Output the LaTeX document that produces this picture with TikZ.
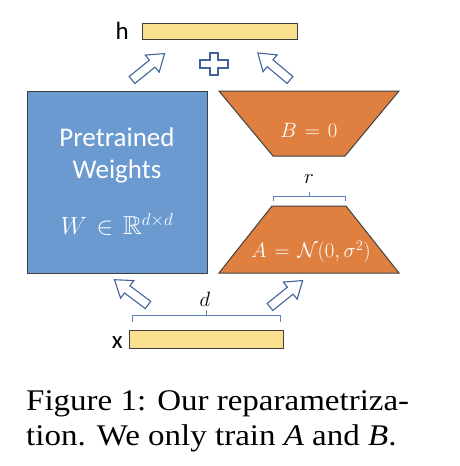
\documentclass[tikz,border=0pt]{standalone}
\usepackage{fontspec}
\usepackage{amssymb}
\newfontfamily\calfont{Carlito}
\newfontfamily\capfont[FakeStretch=1.1]{Liberation Serif}
\definecolor{boxblue}{HTML}{6A9AD0}
\definecolor{boxorange}{HTML}{E08040}
\definecolor{baryellow}{HTML}{FAE08E}
\definecolor{arrblue}{HTML}{42649A}
\definecolor{brblue}{HTML}{5A80C0}
\definecolor{edgegray}{HTML}{404040}
\tikzset{
  barbox/.style={draw=edgegray, fill=baryellow, line width=1pt, inner sep=0pt, minimum height=16, minimum width=155},
  whitetext/.style={text=white, inner sep=0pt},
  lbl/.style={inner sep=0pt, font=\calfont\fontsize{25}{28}\selectfont},
  brace/.style={draw=brblue, line width=1pt},
  barrow/.pic={\draw[arrblue, fill=white, line width=1.1pt, line join=miter]
     (0,-4.5) -- (26,-4.5) -- (26,-11) -- (42,0) -- (26,11) -- (26,4.5) -- (0,4.5) -- cycle;},
  capline/.style={anchor=base west, inner sep=0pt, font=\capfont\fontsize{30}{35}\selectfont}
}
\thickmuskip=7mu plus 5mu
\begin{document}
\begin{tikzpicture}[x=1pt,y=-1pt]
\useasboundingbox (0,0) rectangle (460,466);
% bars
\node[barbox, minimum width=155, minimum height=16] (hbar) at (219.5,31) {};
\node[barbox, minimum width=154, minimum height=18] (xbar) at (206,339) {};
\node[lbl, anchor=base east] (hlbl) at (129,39) {h};
\node[lbl, anchor=base east] (xlbl) at (123,348) {x};
% pretrained box
\node[draw=edgegray, fill=boxblue, line width=1pt, minimum width=180, minimum height=182, inner sep=0pt] (W) at (117,182) {};
\node[whitetext, font=\calfont\fontsize{27}{30}\selectfont] (t1) at (117,137) {Pretrained};
\node[whitetext, font=\calfont\fontsize{27}{30}\selectfont] (t2) at (117,171) {Weights};
\node[whitetext, font=\fontsize{26}{30}\selectfont] (t3) at (117,224) {$W\in\mathbb{R}^{d\times d}$};
% B trapezoid
\draw[draw=edgegray, fill=boxorange, line width=1pt] (219,91) -- (399,91) -- (345,156) -- (273,156) -- cycle;
\node[whitetext, font=\fontsize{21}{24}\selectfont] (Blbl) at (309,130) {$B=0$};
% A trapezoid
\draw[draw=edgegray, fill=boxorange, line width=1pt] (272,206) -- (346,206) -- (399,273) -- (219,273) -- cycle;
\node[whitetext, font=\fontsize{22.5}{26}\selectfont] (Albl) at (311,252) {$A=\mathcal{N}(0,\sigma^2)$};
% r brace
\draw[brace] (273,201) -- (273,196) -- (345,196) -- (345,201);
\draw[brace] (309,196) -- (309,192);
\node[inner sep=0pt, font=\fontsize{20}{22}\selectfont] (rlbl) at (309,179) {$r$};
% d brace
\draw[brace] (132,322) -- (132,315) -- (280,315) -- (280,322);
\draw[brace] (206,315) -- (206,310);
\node[inner sep=0pt, font=\fontsize{22}{24}\selectfont] (dlbl) at (205,299) {$d$};
% block arrows
\pic[rotate=39] (a1) at (132,80) {barrow};
\pic[rotate=140] (a2) at (290,80) {barrow};
\pic[rotate=143] (a3) at (148,305) {barrow};
\pic[rotate=39] (a4) at (270,307) {barrow};
% plus
\draw[arrblue, fill=white, line width=1.1pt, line join=miter]
  (200,60) -- (210,60) -- (210,53) -- (218,53) -- (218,60) -- (228,60) -- (228,68) -- (218,68) -- (218,75) -- (210,75) -- (210,68) -- (200,68) -- cycle;
% caption
\node[capline] (c1) at (26,410) {Figure 1: Our reparametriza-};
\node[capline] (c2) at (26,445) {tion. We only train {\itshape A} and {\itshape B}.};
\end{tikzpicture}
\end{document}
